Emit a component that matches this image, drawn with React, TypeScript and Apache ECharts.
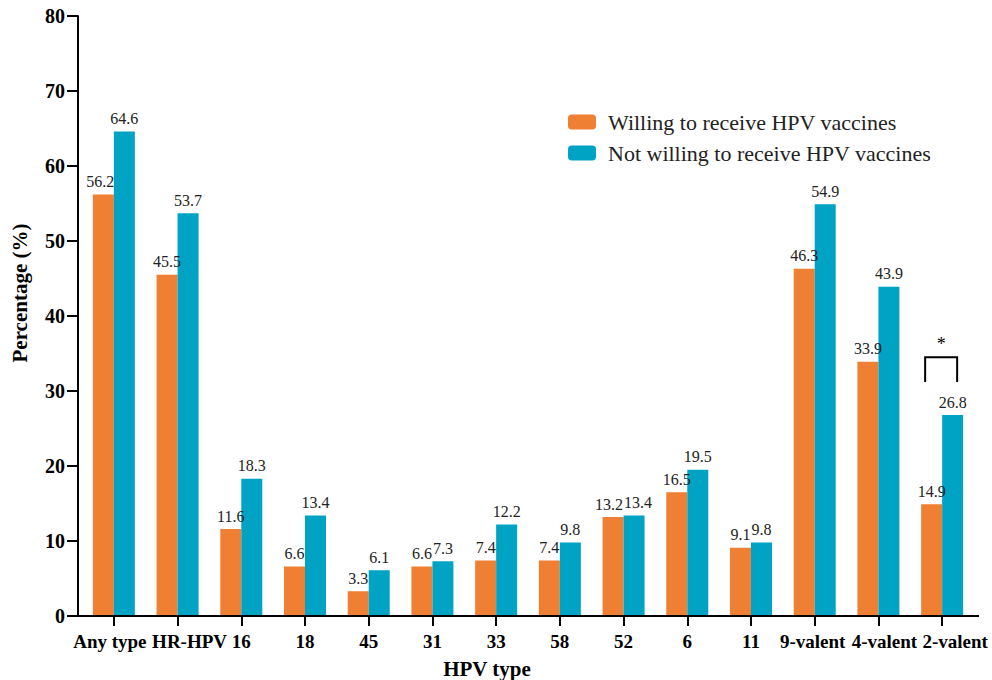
import React, { useEffect, useRef } from "react";
import * as echarts from "echarts";

const categories = ["Any type", "HR-HPV", "16", "18", "45", "31", "33", "58", "52", "6", "11", "9-valent", "4-valent", "2-valent"];
const willing = [56.2, 45.5, 11.6, 6.6, 3.3, 6.6, 7.4, 7.4, 13.2, 16.5, 9.1, 46.3, 33.9, 14.9];
const notWilling = [64.6, 53.7, 18.3, 13.4, 6.1, 7.3, 12.2, 9.8, 13.4, 19.5, 9.8, 54.9, 43.9, 26.8];
const seriesNames = ["Willing to receive HPV vaccines", "Not willing to receive HPV vaccines"];
const sigMarks = [{ category: "2-valent", top: 34.5, bottom: 31.2, label: "*" }];
const yTicks = { min: 0, max: 80, interval: 10 };

const FONT = "Liberation Serif";
const ORANGE = "#EE7F33";
const BLUE = "#00A3C4";

// layout nudges (px) for crowded labels, as in the reference
const xLabelShift: Record<string, number> = { "Any type": -4, "HR-HPV": 12, "9-valent": -2, "4-valent": 6, "2-valent": 13 };
const willingLabelShift: Record<number, number> = { 0: -3, 8: -4 };
const notWillingLabelShift: Record<number, number> = { 8: 4 };

export default function App() {
  const ref = useRef<HTMLDivElement>(null);
  useEffect(() => {
    document.body.style.margin = "0";
    const chart = echarts.init(ref.current!, null, { renderer: "svg" });
    const labelStyle = {
      show: true,
      position: "top",
      distance: 5,
      fontFamily: FONT,
      fontSize: 16,
      color: "#222",
    };
    const withShift = (vals: number[], shifts: Record<number, number>) =>
      vals.map((v, i) => (shifts[i] ? { value: v, label: { offset: [shifts[i], 0] } } : v));
    const xData = categories.map((c) => {
      const s = xLabelShift[c] || 0;
      if (!s) return c;
      return {
        value: c,
        textStyle: { padding: s > 0 ? [0, 0, 0, 2 * s] : [0, -2 * s, 0, 0] },
      };
    });
    chart.setOption({
      animation: false,
      textStyle: { fontFamily: FONT },
      grid: { left: 82, right: 18, top: 16, bottom: 64, containLabel: false },
      legend: {
        orient: "vertical",
        left: 563,
        top: 106,
        itemWidth: 28,
        itemHeight: 15,
        itemGap: 9,
        icon: "roundRect",
        textStyle: { fontFamily: FONT, fontSize: 22, color: "#222", padding: [0, 0, 0, 7] },
        data: seriesNames,
      },
      xAxis: {
        type: "category",
        data: xData,
        axisLine: { show: false },
        axisTick: { show: true, alignWithLabel: true, length: 10, lineStyle: { color: "#000", width: 2 } },
        axisLabel: {
          margin: 16,
          fontFamily: FONT,
          fontSize: 19,
          fontWeight: "bold",
          color: "#000",
          interval: 0,
        },
      },
      yAxis: {
        type: "value",
        min: yTicks.min,
        max: yTicks.max,
        interval: yTicks.interval,
        offset: 4,
        splitLine: { show: false },
        axisLine: { show: true, lineStyle: { color: "#000", width: 2 } },
        axisTick: { show: true, length: 11, lineStyle: { color: "#000", width: 2 } },
        axisLabel: { margin: 13, fontFamily: FONT, fontSize: 20, fontWeight: "bold", color: "#000" },
      },
      graphic: [
        { type: "line", shape: { x1: 77, y1: 616, x2: 979, y2: 616 }, style: { stroke: "#000", lineWidth: 2 }, z: 10 },
        {
          type: "text",
          x: 20,
          y: 293,
          rotation: Math.PI / 2,
          style: {
            text: "Percentage (%)",
            fontFamily: FONT,
            fontSize: 21,
            fontWeight: "bold",
            fill: "#000",
            textAlign: "center",
            textVerticalAlign: "middle",
          },
        },
        {
          type: "text",
          x: 487,
          y: 669,
          style: {
            text: "HPV type",
            fontFamily: FONT,
            fontSize: 21,
            fontWeight: "bold",
            fill: "#000",
            textAlign: "center",
            textVerticalAlign: "middle",
          },
        },
      ],
      series: [
        {
          name: seriesNames[0],
          type: "bar",
          data: withShift(willing, willingLabelShift),
          barWidth: 21,
          barGap: "0%",
          itemStyle: { color: ORANGE },
          label: labelStyle,
        },
        {
          name: seriesNames[1],
          type: "bar",
          data: withShift(notWilling, notWillingLabelShift),
          barWidth: 21,
          barGap: "0%",
          itemStyle: { color: BLUE },
          label: labelStyle,
        },
        {
          type: "custom",
          data: sigMarks.map((m) => [categories.indexOf(m.category), m.top, m.bottom]),
          encode: { x: 0, y: 1 },
          silent: true,
          z: 5,
          renderItem: (params: any, api: any) => {
            const topPt = api.coord([api.value(0), api.value(1)]);
            const botPt = api.coord([api.value(0), api.value(2)]);
            const cx = topPt[0] - 1;
            const half = 16;
            return {
              type: "group",
              children: [
                {
                  type: "polyline",
                  shape: {
                    points: [
                      [cx - half, botPt[1]],
                      [cx - half, topPt[1]],
                      [cx + half, topPt[1]],
                      [cx + half, botPt[1]],
                    ],
                  },
                  style: { stroke: "#000", lineWidth: 2, fill: null },
                },
                {
                  type: "text",
                  x: cx,
                  y: topPt[1] - 4,
                  style: {
                    text: sigMarks[params.dataIndex].label,
                    fontFamily: FONT,
                    fontSize: 18,
                    fill: "#000",
                    textAlign: "center",
                    textVerticalAlign: "bottom",
                  },
                },
              ],
            };
          },
        },
      ],
    });
    return () => chart.dispose();
  }, []);
  return <div ref={ref} style={{ width: 992, height: 680 }} />;
}
